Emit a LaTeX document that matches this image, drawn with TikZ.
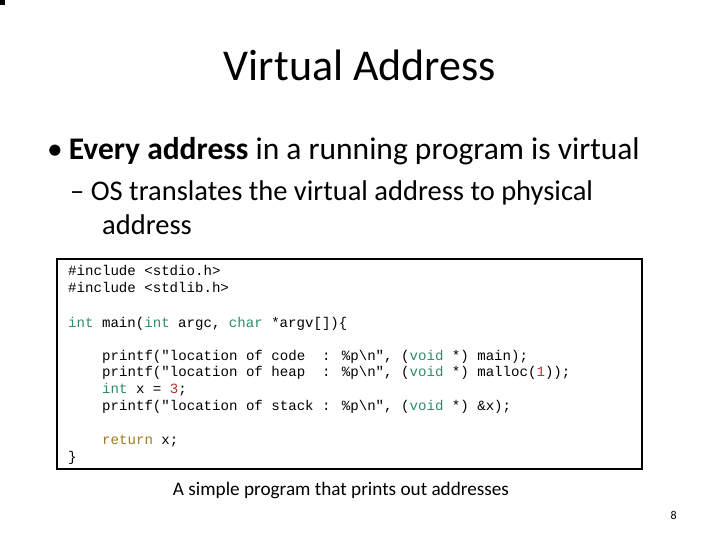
\documentclass[tikz,border=0pt]{standalone}
\usepackage{fontspec}
\setmainfont{Carlito}
\newfontfamily\codefont{Liberation Mono}
\usetikzlibrary{positioning}
\definecolor{kwgreen}{HTML}{2E8B6E}
\definecolor{retbrown}{HTML}{A07820}
\definecolor{numred}{HTML}{B03030}
\tikzset{
  codeline/.style={anchor=base west, inner sep=0pt, font=\codefont\fontsize{14.1bp}{16bp}\selectfont},
  slidetext/.style={anchor=base west, inner sep=0pt}
}
\newcommand{\kw}[1]{\textcolor{kwgreen}{#1}}
\begin{document}
\begin{tikzpicture}[x=1bp,y=-1bp]
  \useasboundingbox (0,0) rectangle (720,540);
  \fill (0,0) rectangle (5,5);
  % title and bullets
  \node[inner sep=0pt, anchor=base, font=\fontsize{44bp}{50bp}\selectfont] (title) at (360,81) {Virtual Address};
  \node[slidetext, font=\fontsize{31.5bp}{36bp}\selectfont] (bullet) at (47,160) {\textbullet\hspace{6bp}\textbf{Every address} in a running program is virtual};
  \node[slidetext, font=\fontsize{28.5bp}{32bp}\selectfont] (sub1) at (70,201) {\textendash\ OS translates the virtual address to physical};
  \node[slidetext, font=\fontsize{28.5bp}{32bp}\selectfont] (sub2) at (102,235) {address};
  % code box
  \draw[line width=2.5bp] (57,259) rectangle (642,469);
  \node[codeline] (l1) at (68,276) {\#include <stdio.h>};
  \node[codeline] (l2) at (68,292) {\#include <stdlib.h>};
  \node[codeline] (l3) at (68,327) {\kw{int} main(\kw{int} argc, \kw{char} *argv[])\{};
  \node[codeline] (l4) at (102,360) {printf("location of code~~: \%p\textbackslash n", (\kw{void} *) main);};
  \node[codeline] (l5) at (102,376) {printf("location of heap~~: \%p\textbackslash n", (\kw{void} *) malloc(\textcolor{numred}{1}));};
  \node[codeline] (l6) at (102,393) {\kw{int} x = \textcolor{numred}{3};};
  \node[codeline] (l7) at (102,410) {printf("location of stack : \%p\textbackslash n", (\kw{void} *) \&x);};
  \node[codeline] (l8) at (102,444) {\textcolor{retbrown}{return} x;};
  \node[codeline] (l9) at (68,461) {\}};
  % caption and page number
  \node[inner sep=0pt, anchor=base, font=\fontsize{19.2bp}{22bp}\selectfont] (caption) at (341,495) {A simple program that prints out addresses};
  \node[inner sep=0pt, anchor=base east, font=\fontsize{12bp}{14bp}\selectfont] (page) at (677,519) {8};
\end{tikzpicture}
\end{document}
